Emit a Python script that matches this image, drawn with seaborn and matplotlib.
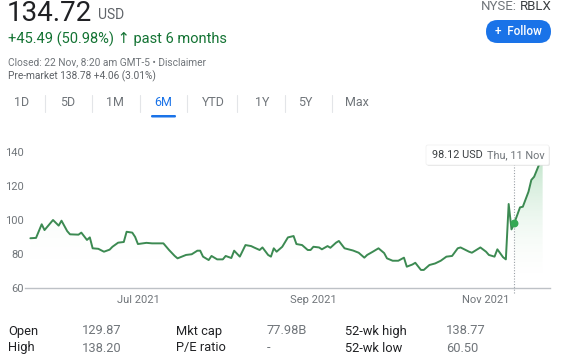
import numpy as np
import pandas as pd
import seaborn as sns
import matplotlib.pyplot as plt
import matplotlib.colors as mcolors
import matplotlib.dates as mdates
from matplotlib.patches import FancyBboxPatch, Polygon

# price history (RBLX, 6M)
dates = [
    "2021-05-24", "2021-05-26", "2021-05-28", "2021-05-29", "2021-06-01", "2021-06-03",
    "2021-06-04", "2021-06-06", "2021-06-07", "2021-06-10", "2021-06-11", "2021-06-13",
    "2021-06-14", "2021-06-15", "2021-06-17", "2021-06-19", "2021-06-21", "2021-06-22",
    "2021-06-24", "2021-06-26", "2021-06-27", "2021-06-29", "2021-06-30", "2021-07-01",
    "2021-07-04", "2021-07-06", "2021-07-10", "2021-07-12", "2021-07-14", "2021-07-15",
    "2021-07-18", "2021-07-20", "2021-07-22", "2021-07-23", "2021-07-24", "2021-07-26",
    "2021-07-27", "2021-07-29", "2021-07-31", "2021-08-01", "2021-08-03", "2021-08-04",
    "2021-08-06", "2021-08-08", "2021-08-10", "2021-08-11", "2021-08-13", "2021-08-14",
    "2021-08-16", "2021-08-17", "2021-08-18", "2021-08-19", "2021-08-21", "2021-08-23",
    "2021-08-25", "2021-08-26", "2021-08-28", "2021-08-30", "2021-08-31", "2021-09-01",
    "2021-09-03", "2021-09-04", "2021-09-06", "2021-09-07", "2021-09-09", "2021-09-10",
    "2021-09-12", "2021-09-15", "2021-09-17", "2021-09-19", "2021-09-20", "2021-09-22",
    "2021-09-24", "2021-09-26", "2021-09-27", "2021-09-29", "2021-10-01", "2021-10-03",
    "2021-10-04", "2021-10-06", "2021-10-07", "2021-10-09", "2021-10-10", "2021-10-12",
    "2021-10-14", "2021-10-16", "2021-10-18", "2021-10-20", "2021-10-22", "2021-10-23",
    "2021-10-26", "2021-10-27", "2021-10-30", "2021-11-01", "2021-11-02", "2021-11-04",
    "2021-11-05", "2021-11-07", "2021-11-08", "2021-11-09", "2021-11-10", "2021-11-11",
    "2021-11-13", "2021-11-14", "2021-11-16", "2021-11-17", "2021-11-18", "2021-11-20",
    "2021-11-21",
]
prices = [
    89.2, 89.4, 97.4, 94.0, 99.9, 96.6,
    99.5, 93.4, 91.5, 91.3, 92.5, 88.2,
    89.7, 83.3, 83.0, 81.3, 82.5, 84.2,
    86.6, 87.0, 93.0, 92.5, 90.0, 85.8,
    86.5, 86.2, 86.2, 82.3, 78.8, 77.4,
    79.4, 79.8, 81.9, 81.9, 78.4, 76.4,
    78.8, 76.8, 76.8, 78.8, 77.6, 81.9,
    78.4, 85.2, 84.6, 83.8, 82.3, 83.8,
    79.4, 78.4, 83.3, 81.3, 84.2, 89.7,
    90.5, 85.8, 85.2, 82.3, 82.3, 84.2,
    83.8, 82.7, 84.6, 83.6, 86.6, 87.6,
    83.3, 82.0, 80.7, 77.8, 79.4, 81.3,
    83.3, 80.5, 77.4, 76.0, 76.0, 77.8,
    72.5, 73.8, 74.8, 70.6, 70.6, 73.5,
    74.4, 76.0, 78.4, 78.8, 83.3, 83.8,
    81.3, 80.7, 83.8, 81.3, 79.4, 78.4,
    82.7, 78.1, 76.8, 109.3, 94.4, 98.12,
    107.3, 107.7, 116.5, 123.4, 125.3, 133.5,
    134.72,
]
hover_date = "2021-11-11"
hover_price = 98.12

x_ticks = ["2021-07-01", "2021-09-01", "2021-11-01"]
x_tick_labels = ["Jul 2021", "Sep 2021", "Nov 2021"]
y_ticks = [60, 80, 100, 120, 140]

tabs = ["1D", "5D", "1M", "6M", "YTD", "1Y", "5Y", "Max"]
stat_labels = [["Open", "High"], ["Mkt cap", "P/E ratio"], ["52-wk high", "52-wk low"]]
stat_values = [["129.87", "138.20"], ["77.98B", "-"], ["138.77", "60.50"]]

GREEN = "#3c8a52"
GRAY = "#70757a"
DARK = "#202124"
BLUE = "#1a73e8"

sns.set_theme(style="white")
plt.rcParams["font.family"] = ["Roboto", "DejaVu Sans"]

W, H = 578, 356
fig = plt.figure(figsize=(W / 100, H / 100), dpi=100)
fig.patch.set_facecolor("white")

df = pd.DataFrame({"date": pd.to_datetime(dates), "price": prices})

# chart axes, placed in pixel terms
ax_l, ax_r, ax_t, ax_b = 25, 550, 130, 288
ax = fig.add_axes([ax_l / W, 1 - ax_b / H, (ax_r - ax_l) / W, (ax_b - ax_t) / H])
ymin, ymax = 60, 60 + (ax_b - ax_t) / 1.704

sns.lineplot(data=df, x="date", y="price", ax=ax, color=GREEN, linewidth=1.4, zorder=3)

# soft gradient under the line, stronger right of the hovered point
xn = mdates.date2num(df["date"])
hx = mdates.date2num(pd.Timestamp(hover_date))


def gradient_under(mask, alpha_top):
    xs = xn[mask]
    ys = np.array(prices)[mask]
    verts = [(xs[0], ymin)] + list(zip(xs, ys)) + [(xs[-1], ymin)]
    poly = Polygon(verts, closed=True, facecolor="none", edgecolor="none")
    ax.add_patch(poly)
    z = np.zeros((200, 1, 4))
    z[:, :, :3] = mcolors.to_rgb("#34a853")
    z[:, 0, 3] = np.linspace(0, 1, 200) ** 2 * alpha_top
    im = ax.imshow(z, aspect="auto", extent=[xs[0], xs[-1], ymin, ymax],
                   origin="lower", zorder=1, interpolation="bilinear")
    im.set_clip_path(poly)


gradient_under(xn <= hx, 0.12)
gradient_under(xn >= hx, 0.45)

# hover marker and dotted guide
ax.plot([pd.Timestamp(hover_date)] * 2, [ymin - 3, 133], linestyle=(0, (1, 1.5)),
        color="#9aa0a6", linewidth=0.8, zorder=2, clip_on=False)
ax.scatter([pd.Timestamp(hover_date)], [hover_price], s=22, color="#34a853", zorder=4)

ax.set_xlim(pd.Timestamp("2021-07-01") - pd.Timedelta(days=39.9),
            pd.Timestamp("2021-07-01") + pd.Timedelta(days=145.6))
ax.set_ylim(ymin, ymax)
ax.set_xticks(pd.to_datetime(x_ticks))
ax.set_xticklabels(x_tick_labels)
ax.set_yticks(y_ticks)
ax.set_xlabel("")
ax.set_ylabel("")
for s in ["top", "right", "left"]:
    ax.spines[s].set_visible(False)
ax.spines["bottom"].set_color("#bdc1c6")
ax.spines["bottom"].set_linewidth(1)
ax.tick_params(axis="x", direction="inout", length=6, width=0.8, color="#bdc1c6",
               labelsize=8, labelcolor=GRAY, pad=2)
ax.tick_params(axis="y", length=0, labelsize=8, labelcolor=GRAY, pad=1)
ax.set_facecolor("none")

# overlay in pixel coordinates for the page furniture (y measured from the top)
ov = fig.add_axes([0, 0, 1, 1], zorder=5)
ov.set_xlim(0, W)
ov.set_ylim(0, H)
ov.axis("off")
ov.patch.set_alpha(0)


def Y(y):
    return H - y


def pill(x, y, w, h, r, **kw):
    ov.add_patch(FancyBboxPatch((x, Y(y + h)), w, h,
                                boxstyle=f"round,pad=0,rounding_size={r}", **kw))


ov.text(7, Y(21), "134.72", fontsize=20, color=DARK, va="baseline", ha="left")
ov.text(98, Y(19), "USD", fontsize=10, color="#5f6368", va="baseline", ha="left")
ov.text(8, Y(44), "+45.49 (50.98%) \u2191 past 6 months", fontsize=10.5, color="#137333",
        va="baseline", ha="left")
ov.text(8, Y(62), "Closed: 22 Nov, 8:20 am GMT-5 \u2022 Disclaimer", fontsize=7.3,
        color=GRAY, va="center", ha="left")
ov.text(8, Y(76), "Pre-market 138.78 +4.06 (3.01%)", fontsize=7.3, color="#5f6368",
        va="center", ha="left")

ov.text(517, Y(7), "NYSE:", fontsize=9.5, color=GRAY, va="center", ha="right")
ov.text(520, Y(7), "RBLX", fontsize=9.5, color="#3c4043", va="center", ha="left")
pill(486, 20, 65, 23, 11.5, facecolor=BLUE, edgecolor="none")
ov.text(518.5, Y(31.5), "+  Follow", fontsize=8.5, color="white", va="center",
        ha="center", fontweight="medium")

tab_x = [22, 68, 115, 163, 213, 262, 305, 357]
sep_x = [45, 92, 140, 187, 237, 285, 332]
for name, tx in zip(tabs, tab_x):
    ov.text(tx, Y(103), name, fontsize=9, color=BLUE if name == "6M" else GRAY,
            va="center", ha="center")
for sx in sep_x:
    ov.plot([sx, sx], [Y(95), Y(112)], color="#e3e5e8", linewidth=0.8)
pill(151, 115, 25, 2.5, 1.2, facecolor=BLUE, edgecolor="none")

# tooltip
pill(427, 146, 123, 20, 2, facecolor="#d0d0d0", edgecolor="none", alpha=0.5)
pill(426, 145, 123, 20, 2, facecolor="white", edgecolor="#eeeeee", linewidth=0.5)
ov.text(432, Y(155), "98.12 USD", fontsize=7.8, color="#3c4043", va="center", ha="left")
ov.text(487, Y(155), "Thu, 11 Nov", fontsize=7.8, color=GRAY, va="center", ha="left")

# key stats table
col_label_x = [8, 176, 345]
col_value_x = [82, 267, 446]
row_y = [331, 348]
for c in range(3):
    for r in range(2):
        ov.text(col_label_x[c], Y(row_y[r]), stat_labels[c][r], fontsize=9.3, color=DARK,
                va="center", ha="left")
        ov.text(col_value_x[c], Y(row_y[r]), stat_values[c][r], fontsize=9.3, color=GRAY,
                va="center", ha="left")

fig.savefig("out.png", dpi=100)
